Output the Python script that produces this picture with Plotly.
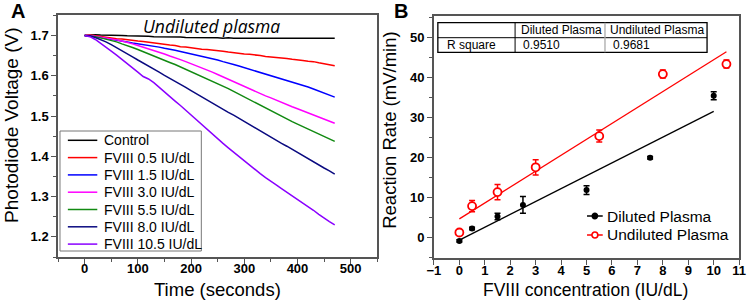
import plotly.graph_objects as go

W, H = 754, 303

# ---------------- Panel A data ----------------
time_s = list(range(0, 480, 10))
series_names = ["Control", "FVIII 0.5 IU/dL", "FVIII 1.5 IU/dL", "FVIII 3.0 IU/dL",
                "FVIII 5.5 IU/dL", "FVIII 8.0 IU/dL", "FVIII 10.5 IU/dL"]
series_colors = ["#000000", "#ff0000", "#0000ff", "#ff00ff", "#128a12", "#0a0a80", "#8a00ff"]

v_control = [1.700, 1.701, 1.702, 1.701, 1.701, 1.700, 1.700, 1.700, 1.699, 1.699,
             1.699, 1.698, 1.698, 1.697, 1.697, 1.697, 1.696, 1.696, 1.696, 1.695,
             1.695, 1.695, 1.694, 1.694, 1.694, 1.694, 1.693, 1.694, 1.693, 1.693,
             1.693, 1.693, 1.694, 1.693, 1.693, 1.693, 1.693, 1.694, 1.693, 1.693,
             1.693, 1.693, 1.693, 1.693, 1.693, 1.693, 1.693, 1.693]
v_05 = [1.700, 1.701, 1.699, 1.697, 1.695, 1.694, 1.692, 1.691, 1.689, 1.688,
        1.686, 1.685, 1.683, 1.681, 1.680, 1.678, 1.676, 1.675, 1.672, 1.671,
        1.669, 1.668, 1.666, 1.665, 1.664, 1.662, 1.661, 1.659, 1.657, 1.656,
        1.654, 1.653, 1.652, 1.650, 1.648, 1.647, 1.646, 1.645, 1.643, 1.641,
        1.640, 1.638, 1.636, 1.635, 1.632, 1.630, 1.628, 1.625]
v_15 = [1.700, 1.699, 1.697, 1.695, 1.693, 1.690, 1.688, 1.686, 1.684, 1.681,
        1.679, 1.677, 1.675, 1.674, 1.671, 1.668, 1.666, 1.663, 1.660, 1.657,
        1.655, 1.652, 1.649, 1.646, 1.642, 1.639, 1.635, 1.632, 1.628, 1.624,
        1.620, 1.617, 1.613, 1.609, 1.605, 1.601, 1.597, 1.593, 1.589, 1.585,
        1.580, 1.576, 1.572, 1.567, 1.562, 1.557, 1.552, 1.547]
v_30 = [1.700, 1.700, 1.698, 1.696, 1.694, 1.691, 1.689, 1.686, 1.683, 1.679,
        1.675, 1.671, 1.667, 1.662, 1.658, 1.654, 1.649, 1.645, 1.640, 1.635,
        1.630, 1.625, 1.620, 1.615, 1.609, 1.603, 1.597, 1.590, 1.584, 1.579,
        1.573, 1.567, 1.561, 1.556, 1.550, 1.545, 1.539, 1.533, 1.528, 1.523,
        1.518, 1.513, 1.507, 1.502, 1.497, 1.492, 1.487, 1.482]
v_55 = [1.700, 1.699, 1.697, 1.694, 1.691, 1.687, 1.684, 1.679, 1.675, 1.670,
        1.665, 1.660, 1.655, 1.650, 1.645, 1.639, 1.633, 1.628, 1.622, 1.617,
        1.611, 1.605, 1.599, 1.593, 1.587, 1.581, 1.574, 1.568, 1.561, 1.554,
        1.547, 1.540, 1.533, 1.526, 1.519, 1.512, 1.506, 1.499, 1.492, 1.486,
        1.480, 1.474, 1.467, 1.461, 1.455, 1.449, 1.443, 1.437]
v_80 = [1.700, 1.699, 1.695, 1.690, 1.684, 1.677, 1.670, 1.662, 1.654, 1.647,
        1.639, 1.632, 1.624, 1.616, 1.609, 1.601, 1.594, 1.586, 1.578, 1.571,
        1.563, 1.555, 1.548, 1.540, 1.532, 1.525, 1.517, 1.509, 1.502, 1.494,
        1.486, 1.478, 1.471, 1.463, 1.455, 1.448, 1.440, 1.432, 1.425, 1.417,
        1.409, 1.402, 1.394, 1.386, 1.379, 1.371, 1.364, 1.356]
v_105 = [1.700, 1.697, 1.690, 1.681, 1.670, 1.661, 1.651, 1.641, 1.630, 1.620,
         1.609, 1.598, 1.592, 1.583, 1.571, 1.560, 1.549, 1.537, 1.526, 1.514,
         1.502, 1.490, 1.478, 1.466, 1.455, 1.444, 1.432, 1.421, 1.410, 1.399,
         1.388, 1.377, 1.367, 1.357, 1.347, 1.339, 1.329, 1.320, 1.311, 1.303,
         1.294, 1.286, 1.276, 1.266, 1.256, 1.246, 1.238, 1.230]
series_values = [v_control, v_05, v_15, v_30, v_55, v_80, v_105]

# ---------------- Panel B data ----------------
dil_x = [0, 0.5, 1.5, 2.5, 5, 7.5, 10]
dil_y = [-0.9, 2.2, 5.2, 8.1, 11.8, 19.9, 35.4]
dil_err = [0.3, 0.3, 0.8, 2.1, 1.1, 0.3, 1.0]
und_x = [0, 0.5, 1.5, 3, 5.5, 8, 10.5]
und_y = [1.2, 7.8, 11.3, 17.5, 25.3, 40.8, 43.3]
und_err = [0.3, 1.4, 1.9, 1.9, 1.5, 1.0, 1.0]
dil_fit_x = [0, 10]
dil_fit_y = [-0.7, 31.5]
und_fit_x = [0, 10.5]
und_fit_y = [4.6, 46.4]
b_legend_names = ["Diluted Plasma", "Undiluted Plasma"]
table_header = ["", "Diluted Plasma", "Undiluted Plasma"]
table_row = ["R square", "0.9510", "0.9681"]


def px(x):
    return x / W


def py(y):
    return 1 - y / H


fig = go.Figure()

for name, col, vals in zip(series_names, series_colors, series_values):
    fig.add_trace(go.Scatter(x=time_s, y=vals, mode="lines", name=name, showlegend=False,
                             line=dict(color=col, width=1.5),
                             xaxis="x", yaxis="y"))

# Panel B
fig.add_trace(go.Scatter(x=dil_fit_x, y=dil_fit_y, mode="lines", showlegend=False,
                         line=dict(color="black", width=1.3), xaxis="x2", yaxis="y2"))
fig.add_trace(go.Scatter(x=und_fit_x, y=und_fit_y, mode="lines", showlegend=False,
                         line=dict(color="#ff0000", width=1.3), xaxis="x2", yaxis="y2"))
fig.add_trace(go.Scatter(x=dil_x, y=dil_y, mode="markers", showlegend=False,
                         marker=dict(color="black", size=6),
                         error_y=dict(type="data", array=dil_err, color="black",
                                      thickness=1.5, width=3),
                         xaxis="x2", yaxis="y2"))
fig.add_trace(go.Scatter(x=und_x, y=und_y, mode="markers", showlegend=False,
                         marker=dict(color="white", size=8, symbol="circle",
                                     line=dict(color="#ff0000", width=1.8)),
                         error_y=dict(type="data", array=und_err, color="#ff0000",
                                      thickness=1.5, width=3),
                         xaxis="x2", yaxis="y2"))

axis_line = dict(showline=True, linecolor="#555555", linewidth=1.5, mirror=True,
                 ticks="outside", tickcolor="#555555", tickwidth=1.3, ticklen=5,
                 showgrid=False, zeroline=False,
                 tickfont=dict(family="Arial", size=13, color="black", weight="bold"))

fig.update_layout(
    width=W, height=H, autosize=False,
    margin=dict(l=0, r=0, t=0, b=0),
    paper_bgcolor="white", plot_bgcolor="white",
    font=dict(family="Arial", color="black"),
    showlegend=False,
    xaxis=dict(domain=[px(52), px(377.3)], range=[-50, 550], anchor="y",
               tickvals=[0, 100, 200, 300, 400, 500], ticklabelstandoff=-6,
               minor=dict(ticks="outside", ticklen=3, dtick=50, tick0=0,
                          tickcolor="#555555", tickwidth=1.2),
               **axis_line),
    yaxis=dict(domain=[py(257), py(15.3)], range=[1.15, 1.75], anchor="x",
               tickvals=[1.2, 1.3, 1.4, 1.5, 1.6, 1.7],
               minor=dict(ticks="outside", ticklen=3, dtick=0.05, tick0=1.15,
                          tickcolor="#555555", tickwidth=1.2),
               **axis_line),
    xaxis2=dict(domain=[px(435), px(746)], range=[-1, 11], anchor="y2",
                tickvals=list(range(-1, 12)), ticklabelstandoff=-6, **axis_line),
    yaxis2=dict(domain=[py(258.3), py(15.7)], range=[-5.25, 55.4], anchor="x2",
                tickvals=[0, 10, 20, 30, 40, 50],
                minor=dict(ticks="outside", ticklen=3, dtick=5, tick0=0,
                           tickcolor="#555555", tickwidth=1.2),
                **axis_line),
)

ann = []
shapes = []
ann.append(dict(text="<b>A</b>", x=px(2), y=py(10.5), xanchor="left", yanchor="middle",
                font=dict(family="Arial", size=20, color="black")))
ann.append(dict(text="<b>B</b>", x=px(392), y=py(10.5), xanchor="left", yanchor="middle",
                font=dict(family="Arial", size=20, color="black")))
ann.append(dict(text="<i>Undiluted plasma</i>", x=px(208.5), y=py(26), xanchor="center",
                yanchor="middle", font=dict(family="Open Sans", size=17.5, color="black")))
ann.append(dict(text="Time (seconds)", x=px(214), y=py(289.5), xanchor="center",
                yanchor="middle", font=dict(family="Arial", size=18.5, color="black")))
ann.append(dict(text="Photodiode Voltage (V)", x=px(4), y=py(125), xanchor="center",
                yanchor="middle", textangle=-90,
                font=dict(family="Arial", size=19, color="black")))
ann.append(dict(text="FVIII concentration (IU/dL)", x=px(589), y=py(289.5), xanchor="center",
                yanchor="middle", font=dict(family="Arial", size=17.5, color="black")))
ann.append(dict(text="Reaction Rate (mV/min)", x=px(389), y=py(130), xanchor="center",
                yanchor="middle", textangle=-90,
                font=dict(family="Arial", size=18.5, color="black")))

# ---- Panel A legend (drawn box) ----
shapes.append(dict(type="rect", xref="paper", yref="paper", x0=px(54), x1=px(198),
                   y0=py(251), y1=py(131), line=dict(color="#777777", width=1),
                   fillcolor="white", layer="above"))
for i, (name, col) in enumerate(zip(series_names, series_colors)):
    yc = 140.3 + i * 17.3
    shapes.append(dict(type="line", xref="paper", yref="paper", x0=px(62), x1=px(92),
                       y0=py(yc), y1=py(yc), line=dict(color=col, width=1.5), layer="above"))
    ann.append(dict(text=name, x=px(96.5), y=py(yc), xanchor="left", yanchor="middle",
                    font=dict(family="Arial", size=14, color="black")))

# ---- Panel B legend ----
b_leg_colors = ["black", "#ff0000"]
for i, (name, col) in enumerate(zip(b_legend_names, b_leg_colors)):
    yc = 216 + i * 19
    shapes.append(dict(type="line", xref="paper", yref="paper", x0=px(591), x1=px(607),
                       y0=py(yc), y1=py(yc), line=dict(color=col, width=1.5), layer="above"))
    r = 2.6 if i == 0 else 3.0
    shapes.append(dict(type="circle", xref="paper", yref="paper", x0=px(599 - r), x1=px(599 + r),
                       y0=py(yc + r), y1=py(yc - r), layer="above",
                       line=dict(color=col, width=1.6),
                       fillcolor=("black" if i == 0 else "white")))
    ann.append(dict(text=name, x=px(609), y=py(yc), xanchor="left", yanchor="middle",
                    font=dict(family="Arial", size=15.5, color="black")))

# ---- table in panel B ----
tl, tr, tt, tb, tm = 439, 713.3, 22.7, 52.3, 37.7
c1, c2 = 517.7, 609.3
shapes += [
    dict(type="rect", xref="paper", yref="paper", x0=px(tl), x1=px(tr), y0=py(tb), y1=py(tt),
         line=dict(color="black", width=1.3), fillcolor="white", layer="above"),
    dict(type="line", xref="paper", yref="paper", x0=px(tl), x1=px(tr), y0=py(tm), y1=py(tm),
         line=dict(color="black", width=1), layer="above"),
    dict(type="line", xref="paper", yref="paper", x0=px(c1), x1=px(c1), y0=py(tb), y1=py(tt),
         line=dict(color="black", width=1), layer="above"),
    dict(type="line", xref="paper", yref="paper", x0=px(c2), x1=px(c2), y0=py(tb), y1=py(tt),
         line=dict(color="#aaaaaa", width=1.3), layer="above"),
]
col_left = [446, 521.5, 612.5]
for i, txt in enumerate(table_header):
    if txt:
        ann.append(dict(text=txt, x=px(col_left[i]), y=py(30.5), xanchor="left",
                        yanchor="middle", font=dict(family="Arial", size=12, color="black")))
col_left2 = [446, 523.5, 615]
for i, txt in enumerate(table_row):
    ann.append(dict(text=txt, x=px(col_left2[i]), y=py(45.2), xanchor="left",
                    yanchor="middle", font=dict(family="Arial", size=12, color="black")))

for a in ann:
    a.update(xref="paper", yref="paper", showarrow=False)
fig.update_layout(annotations=ann, shapes=shapes)

fig.write_html("out.html", config={"displayModeBar": False},
               post_script="document.body.style.margin='0px';")
